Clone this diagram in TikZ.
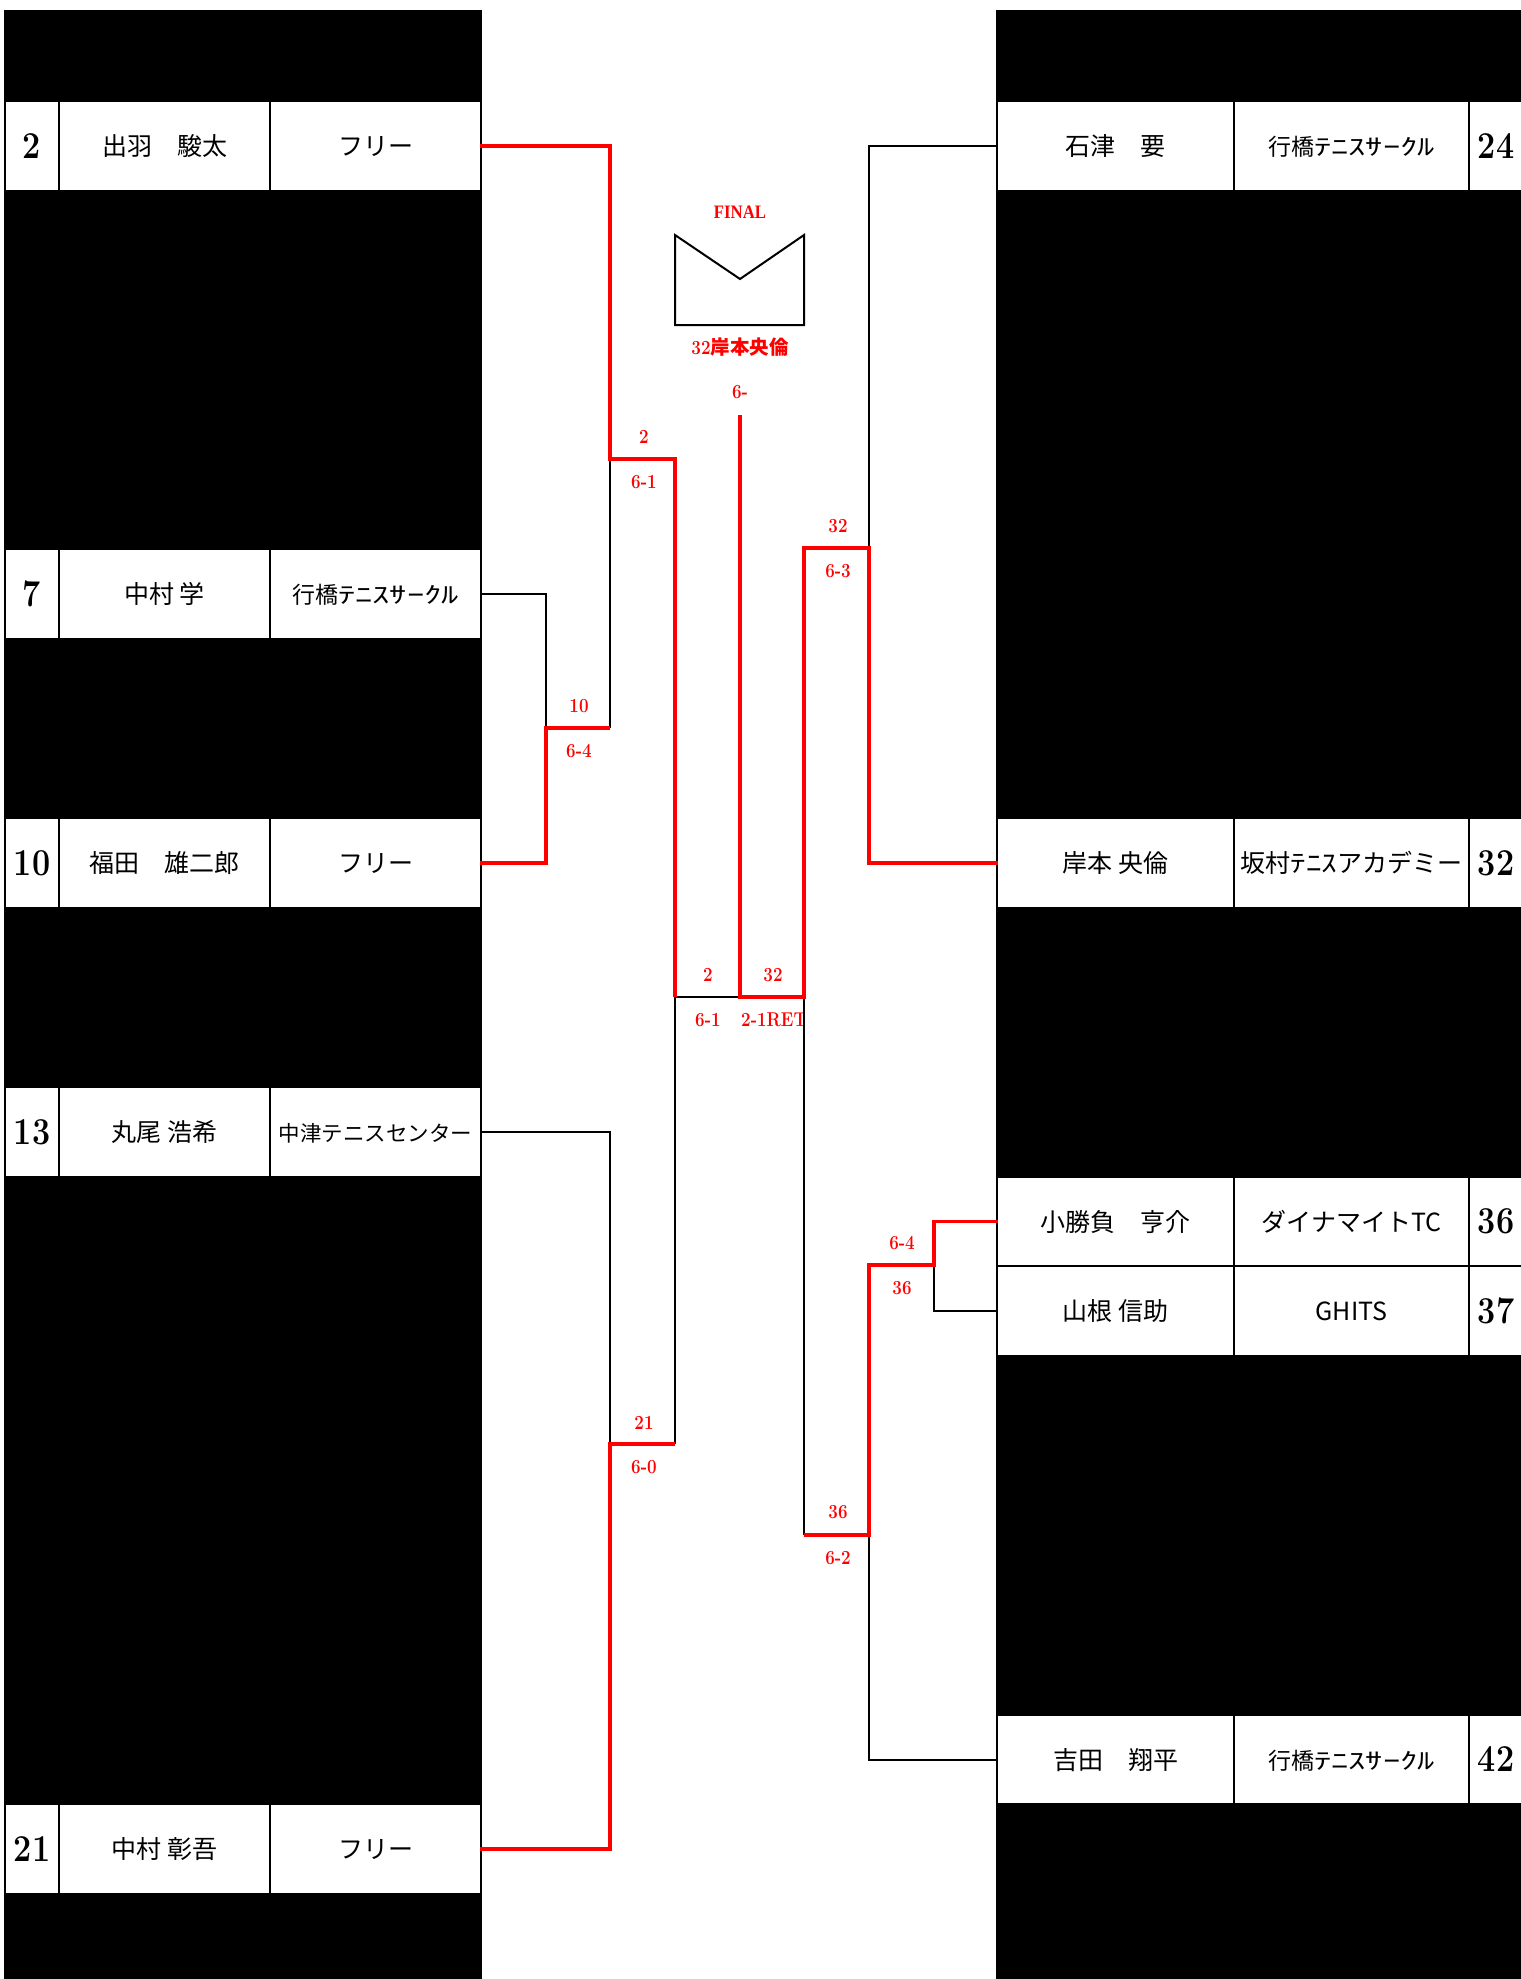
\documentclass[tikz,border=0pt]{standalone}
\usepackage{fontspec}
\usepackage{graphicx}
\newfontfamily\jp{Noto Sans CJK JP}
\newfontfamily\cnum{Latin Modern Roman}[FakeStretch=0.85]
\newfontfamily\finfont{Liberation Serif}[FakeStretch=0.88]
\newcommand\hwk[2]{\scalebox{#1}[1]{#2}}
\tikzset{
  cellbox/.style={fill=white, inner sep=0pt, minimum height=87.6pt, text height=22pt, text depth=3pt},
  numbox/.style={cellbox, minimum width=52pt, font=\cnum\bfseries\fontsize{38}{38}\selectfont, text height=24.5pt, text depth=0pt},
  lname/.style={cellbox, minimum width=209pt, font=\jp\fontsize{25}{25}\selectfont},
  rname/.style={cellbox, minimum width=235pt, font=\jp\fontsize{25}{25}\selectfont},
  rclub/.style={cellbox, minimum width=233pt, font=\jp\fontsize{25}{25}\selectfont},
  loser/.style={draw=black, line width=2pt},
  winner/.style={draw=red, line width=3.5pt},
  score/.style={text=red, inner sep=0pt, font=\cnum\bfseries\fontsize{20}{20}\selectfont, text height=12.9pt, text depth=0pt},
  envelope/.style={draw=black, line width=2pt},
}
\begin{document}
\begin{tikzpicture}[x=1pt, y=-1pt]
\useasboundingbox (0,0) rectangle (1521,1979);
% black table backgrounds
\fill[black] (4,10) rectangle (482,1979);
\fill[black] (996,10) rectangle (1521,1979);

% ---- left players ----
\node[numbox] (L2n) at (32,145.8) {2};
\node[lname] (L2m) at (164.5,145.8) {出羽　駿太};
\node[lname] (L2c) at (375.5,145.8) {フリー};

\node[numbox] (L7n) at (32,594.05) {7};
\node[lname] (L7m) at (164.5,594.05) {中村 学};
\node[lname] (L7c) at (375.5,594.05) {\fontsize{23}{23}\selectfont 行橋\hwk{1.5}{ﾃﾆｽｻｰｸﾙ}};

\node[numbox] (L10n) at (32,863) {10};
\node[lname] (L10m) at (164.5,863) {福田　雄二郎};
\node[lname] (L10c) at (375.5,863) {フリー};

\node[numbox] (L13n) at (32,1131.95) {13};
\node[lname] (L13m) at (164.5,1131.95) {丸尾 浩希};
\node[lname, font=\jp\fontsize{21.5}{21.5}\selectfont] (L13c) at (375.5,1131.95) {中津テニスセンター};

\node[numbox] (L21n) at (32,1849.15) {21};
\node[lname] (L21m) at (164.5,1849.15) {中村 彰吾};
\node[lname] (L21c) at (375.5,1849.15) {フリー};

% ---- right players ----
\node[rname] (R24m) at (1115.5,145.8) {石津　要};
\node[rclub] (R24c) at (1351.5,145.8) {\fontsize{23}{23}\selectfont 行橋\hwk{1.5}{ﾃﾆｽｻｰｸﾙ}};
\node[numbox] (R24n) at (1496,145.8) {24};

\node[rname] (R32m) at (1115.5,863) {岸本 央倫};
\node[rclub] (R32c) at (1351.5,863) {坂村\hwk{1.25}{ﾃﾆｽ}アカデミー};
\node[numbox] (R32n) at (1496,863) {32};

\node[rname] (R36m) at (1115.5,1221.6) {小勝負　亨介};
\node[rclub] (R36c) at (1351.5,1221.6) {ダイナマイトTC};
\node[numbox] (R36n) at (1496,1221.6) {36};

\node[rname] (R37m) at (1115.5,1311.25) {山根 信助};
\node[rclub] (R37c) at (1351.5,1311.25) {GHITS};
\node[numbox] (R37n) at (1496,1311.25) {37};

\node[rname] (R42m) at (1115.5,1759.5) {吉田　翔平};
\node[rclub] (R42c) at (1351.5,1759.5) {\fontsize{23}{23}\selectfont 行橋\hwk{1.5}{ﾃﾆｽｻｰｸﾙ}};
\node[numbox] (R42n) at (1496,1759.5) {42};

% ---- junction coordinates ----
\coordinate (j710) at (546,728);
\coordinate (k710) at (610,728);
\coordinate (j2) at (610,459);
\coordinate (k2) at (675,459);
\coordinate (j1321) at (610,1444);
\coordinate (k1321) at (675,1444);
\coordinate (jSFL) at (675,997);
\coordinate (fj) at (740,997);
\coordinate (ftop) at (740,415);
\coordinate (j3637) at (934,1265);
\coordinate (k3637) at (869,1265);
\coordinate (j42) at (869,1535);
\coordinate (k42) at (804,1535);
\coordinate (j2432) at (869,548);
\coordinate (k2432) at (804,548);
\coordinate (jSFR) at (804,997);

% ---- score labels ----
\node[score] (s710a) at (579,706) {10};
\node[score] (s710b) at (579,751.5) {6-4};
\node[score] (s2a) at (644,437) {2};
\node[score] (s2b) at (644,482) {6-1};
\node[score] (s21a) at (644,1423) {21};
\node[score] (s21b) at (644,1467) {6-0};
\node[score] (sfla) at (708,975) {2};
\node[score] (sflb) at (708,1020) {6-1};
\node[score] (sfra) at (773,975) {32};
\begin{scope}
\clip (735,1005) rectangle (803,1040);
\node[score, anchor=west] (sfrb) at (741,1020) {2-1RET};
\end{scope}
\node[score] (s32a) at (838,526) {32};
\node[score] (s32b) at (838,571) {6-3};
\node[score] (s36a) at (902,1243) {6-4};
\node[score] (s36b) at (902,1288) {36};
\node[score] (s42a) at (838,1512) {36};
\node[score] (s42b) at (838,1558) {6-2};
\node[score] (sfin) at (740,392) {6-};
\node[score, text height=14pt] (champ) at (740,347) {32{\jp\bfseries\fontsize{19.5}{19.5}\selectfont 岸本央倫}};
\node[score, font=\finfont\bfseries\fontsize{19}{19}\selectfont, text height=12.6pt] (final) at (740,212) {FINAL};

% ---- trophy envelope ----
\draw[envelope] (675,235) -- (675,325) -- (804,325) -- (804,235) -- (740,279) -- cycle;

% ---- losing lines ----
\draw[loser] (L7c.east) -| (j710);
\draw[loser] (k710) -- (j2);
\draw[loser] (L13c.east) -| (j1321);
\draw[loser] (k1321) -- (jSFL) -- (fj);
\draw[loser] (R24m.west) -| (j2432);
\draw[loser] (R37m.west) -| (j3637);
\draw[loser] (R42m.west) -| (j42);
\draw[loser] (k42) -- (jSFR);

% ---- winning lines ----
\draw[winner] (L10c.east) -| (j710) -- (k710);
\draw[winner] (L2c.east) -| (j2) -- (k2) -- (jSFL);
\draw[winner] (L21c.east) -| (j1321) -- (k1321);
\draw[winner] (R36m.west) -| (j3637) -- (k3637) -- (j42) -- (k42);
\draw[winner] (R32m.west) -| (j2432) -- (k2432) -- (jSFR) -- (fj) -- (ftop);
\end{tikzpicture}
\end{document}
